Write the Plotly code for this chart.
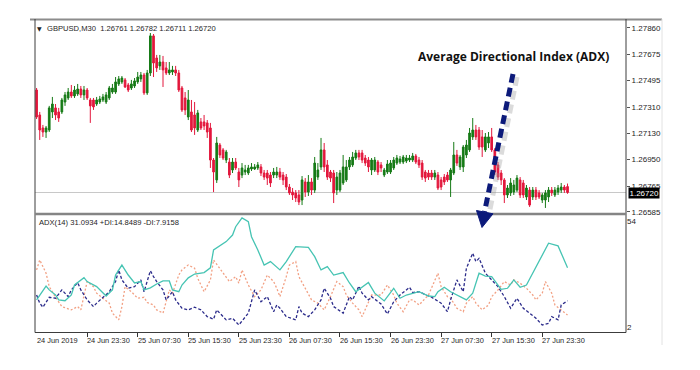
import plotly.graph_objects as go

W, H = 700, 370

# ---------------- data ----------------
BAR_INDEX = list(range(169))

OPEN = [1.27430, 1.27257, 1.27167, 1.27139, 1.27153, 1.27278, 1.27306, 1.27278, 1.27278, 1.27347,
        1.27375, 1.27416, 1.27389, 1.27403, 1.27437, 1.27396, 1.27430, 1.27361, 1.27361, 1.27333,
        1.27347, 1.27361, 1.27347, 1.27375, 1.27416, 1.27416, 1.27472, 1.27486, 1.27500, 1.27465,
        1.27444, 1.27458, 1.27486, 1.27507, 1.27534, 1.27410, 1.27548, 1.27805, 1.27652, 1.27597,
        1.27624, 1.27583, 1.27548, 1.27555, 1.27569, 1.27548, 1.27444, 1.27375, 1.27243, 1.27278,
        1.27257, 1.27153, 1.27209, 1.27209, 1.27202, 1.27167, 1.26945, 1.26807, 1.27049, 1.27015,
        1.26945, 1.26931, 1.26876, 1.26931, 1.26862, 1.26841, 1.26862, 1.26855, 1.26883, 1.26883,
        1.26890, 1.26897, 1.26855, 1.26855, 1.26841, 1.26841, 1.26841, 1.26862, 1.26841, 1.26827,
        1.26758, 1.26723, 1.26717, 1.26703, 1.26668, 1.26793, 1.26723, 1.26793, 1.26737, 1.26827,
        1.26897, 1.27015, 1.26911, 1.26862, 1.26855, 1.26737, 1.26737, 1.26786, 1.26807, 1.26897,
        1.26911, 1.26959, 1.26994, 1.26994, 1.26959, 1.26945, 1.26876, 1.26876, 1.26931, 1.26911,
        1.26841, 1.26862, 1.26862, 1.26890, 1.26924, 1.26931, 1.26931, 1.26938, 1.26945, 1.26945,
        1.26973, 1.26945, 1.26924, 1.26862, 1.26855, 1.26855, 1.26827, 1.26841, 1.26807, 1.26827,
        1.26841, 1.26807, 1.26855, 1.26980, 1.26897, 1.26897, 1.26980, 1.27015, 1.27105, 1.27153,
        1.27153, 1.27105, 1.27015, 1.27063, 1.27105, 1.27015, 1.26911, 1.26855, 1.26807, 1.26703,
        1.26717, 1.26723, 1.26737, 1.26807, 1.26786, 1.26689, 1.26737, 1.26689, 1.26737, 1.26717,
        1.26668, 1.26668, 1.26689, 1.26737, 1.26703, 1.26723, 1.26737, 1.26758, 1.26761]

HIGH = [1.27444, 1.27278, 1.27188, 1.27181, 1.27320, 1.27382, 1.27333, 1.27306, 1.27375, 1.27416,
        1.27444, 1.27465, 1.27458, 1.27472, 1.27458, 1.27458, 1.27444, 1.27375, 1.27375, 1.27382,
        1.27389, 1.27403, 1.27416, 1.27458, 1.27472, 1.27520, 1.27527, 1.27527, 1.27513, 1.27479,
        1.27500, 1.27513, 1.27555, 1.27555, 1.27548, 1.27569, 1.27825, 1.27818, 1.27673, 1.27673,
        1.27666, 1.27624, 1.27624, 1.27597, 1.27597, 1.27569, 1.27458, 1.27416, 1.27430, 1.27361,
        1.27347, 1.27292, 1.27236, 1.27257, 1.27222, 1.27202, 1.26959, 1.27105, 1.27063, 1.27028,
        1.27015, 1.26959, 1.26959, 1.26959, 1.26890, 1.26924, 1.26911, 1.26911, 1.26924, 1.26917,
        1.26931, 1.26917, 1.26876, 1.26876, 1.26862, 1.26890, 1.26897, 1.26890, 1.26862, 1.26848,
        1.26779, 1.26751, 1.26737, 1.26737, 1.26834, 1.26820, 1.26841, 1.26820, 1.26966, 1.26924,
        1.27098, 1.27063, 1.26945, 1.26876, 1.26876, 1.26862, 1.26876, 1.26980, 1.26945, 1.26966,
        1.27001, 1.27015, 1.27015, 1.27015, 1.26980, 1.26966, 1.26959, 1.26966, 1.26945, 1.26931,
        1.26890, 1.26945, 1.26945, 1.26966, 1.26980, 1.26973, 1.26980, 1.26980, 1.26980, 1.26994,
        1.26987, 1.26966, 1.26945, 1.26876, 1.26876, 1.26876, 1.26876, 1.26862, 1.26827, 1.26848,
        1.26862, 1.26890, 1.27070, 1.27015, 1.26980, 1.27049, 1.27084, 1.27167, 1.27236, 1.27188,
        1.27174, 1.27153, 1.27132, 1.27139, 1.27167, 1.27028, 1.26931, 1.26876, 1.26820, 1.26772,
        1.26820, 1.26807, 1.26841, 1.26827, 1.26807, 1.26772, 1.26758, 1.26758, 1.26758, 1.26737,
        1.26717, 1.26737, 1.26758, 1.26758, 1.26758, 1.26772, 1.26786, 1.26772, 1.26782]

LOW = [1.27229, 1.27084, 1.27105, 1.27098, 1.27139, 1.27236, 1.27222, 1.27209, 1.27264, 1.27320,
       1.27361, 1.27375, 1.27375, 1.27389, 1.27375, 1.27361, 1.27361, 1.27202, 1.27292, 1.27320,
       1.27333, 1.27347, 1.27333, 1.27361, 1.27403, 1.27403, 1.27458, 1.27472, 1.27444, 1.27416,
       1.27430, 1.27444, 1.27472, 1.27486, 1.27396, 1.27396, 1.27527, 1.27520, 1.27555, 1.27569,
       1.27451, 1.27534, 1.27534, 1.27534, 1.27527, 1.27416, 1.27278, 1.27257, 1.27222, 1.27139,
       1.27119, 1.27139, 1.27153, 1.27153, 1.27098, 1.26890, 1.26723, 1.26786, 1.26959, 1.26945,
       1.26924, 1.26820, 1.26855, 1.26876, 1.26758, 1.26820, 1.26841, 1.26841, 1.26869, 1.26876,
       1.26876, 1.26834, 1.26807, 1.26772, 1.26758, 1.26820, 1.26820, 1.26807, 1.26772, 1.26737,
       1.26703, 1.26668, 1.26654, 1.26633, 1.26633, 1.26689, 1.26696, 1.26703, 1.26717, 1.26807,
       1.26876, 1.26862, 1.26807, 1.26793, 1.26647, 1.26703, 1.26723, 1.26772, 1.26793, 1.26876,
       1.26897, 1.26945, 1.26945, 1.26924, 1.26904, 1.26862, 1.26841, 1.26862, 1.26841, 1.26862,
       1.26827, 1.26848, 1.26848, 1.26876, 1.26911, 1.26917, 1.26917, 1.26924, 1.26931, 1.26931,
       1.26917, 1.26890, 1.26807, 1.26793, 1.26807, 1.26807, 1.26807, 1.26737, 1.26737, 1.26772,
       1.26793, 1.26689, 1.26841, 1.26904, 1.26876, 1.26862, 1.26959, 1.27001, 1.27084, 1.27084,
       1.27015, 1.26966, 1.27001, 1.27028, 1.27001, 1.26841, 1.26807, 1.26772, 1.26647, 1.26682,
       1.26696, 1.26703, 1.26723, 1.26682, 1.26682, 1.26668, 1.26620, 1.26668, 1.26668, 1.26675,
       1.26647, 1.26613, 1.26654, 1.26696, 1.26689, 1.26703, 1.26717, 1.26717, 1.26711]

CLOSE = [1.27243, 1.27153, 1.27139, 1.27167, 1.27306, 1.27333, 1.27257, 1.27236, 1.27361, 1.27396,
         1.27416, 1.27389, 1.27430, 1.27437, 1.27396, 1.27430, 1.27375, 1.27320, 1.27313, 1.27361,
         1.27368, 1.27382, 1.27396, 1.27444, 1.27444, 1.27486, 1.27507, 1.27513, 1.27451, 1.27430,
         1.27472, 1.27493, 1.27520, 1.27534, 1.27410, 1.27548, 1.27805, 1.27617, 1.27583, 1.27624,
         1.27569, 1.27548, 1.27569, 1.27569, 1.27548, 1.27430, 1.27292, 1.27292, 1.27361, 1.27153,
         1.27167, 1.27271, 1.27167, 1.27181, 1.27139, 1.26945, 1.26862, 1.27063, 1.26980, 1.26959,
         1.27001, 1.26841, 1.26931, 1.26890, 1.26807, 1.26890, 1.26876, 1.26890, 1.26897, 1.26897,
         1.26911, 1.26855, 1.26827, 1.26820, 1.26786, 1.26862, 1.26862, 1.26827, 1.26807, 1.26758,
         1.26717, 1.26703, 1.26682, 1.26654, 1.26807, 1.26723, 1.26793, 1.26737, 1.26924, 1.26876,
         1.27015, 1.26897, 1.26827, 1.26820, 1.26717, 1.26827, 1.26855, 1.26897, 1.26897, 1.26945,
         1.26966, 1.26994, 1.26966, 1.26945, 1.26924, 1.26897, 1.26945, 1.26945, 1.26862, 1.26890,
         1.26876, 1.26917, 1.26924, 1.26945, 1.26959, 1.26952, 1.26966, 1.26959, 1.26959, 1.26973,
         1.26931, 1.26911, 1.26827, 1.26820, 1.26827, 1.26827, 1.26855, 1.26751, 1.26758, 1.26793,
         1.26807, 1.26876, 1.26980, 1.26924, 1.26966, 1.27035, 1.27049, 1.27132, 1.27153, 1.27105,
         1.27035, 1.27035, 1.27105, 1.27105, 1.27015, 1.26862, 1.26827, 1.26807, 1.26703, 1.26751,
         1.26786, 1.26772, 1.26820, 1.26703, 1.26703, 1.26751, 1.26633, 1.26737, 1.26689, 1.26689,
         1.26703, 1.26717, 1.26737, 1.26717, 1.26737, 1.26751, 1.26758, 1.26737, 1.26720]

ADX_IDX = [0, 3, 4, 6, 7, 9, 11, 12, 15, 16, 19, 22, 24, 25, 27, 29, 31, 33, 34, 36,
           38, 40, 42, 43, 45, 46, 48, 50, 53, 55, 56, 59, 60, 62, 63, 65, 67, 68, 70, 72,
           74, 77, 79, 82, 86, 88, 90, 92, 94, 97, 99, 101, 105, 107, 110, 113, 115, 117, 119, 121,
           124, 126, 127, 129, 131, 133, 136, 138, 140, 142, 144, 147, 149, 151, 153, 155, 157, 159, 162, 165,
           167, 168]
ADX_VAL = [15.3, 22.1, 20.2, 17.7, 15.3, 14.9, 17.7, 22.6, 26.2, 24.3, 21.8, 17.2, 20.2, 27.5, 32.4, 27.5, 23.6, 24.3, 20.2, 21.2,
           23.1, 24.6, 24.6, 20.2, 19.3, 22.6, 26.1, 28.0, 28.7, 31.0, 39.8, 43.2, 43.9, 47.1, 51.2, 55.5, 53.7, 46.3, 39.8, 32.4,
           34.1, 30.0, 34.1, 41.4, 41.1, 36.5, 30.0, 31.6, 27.5, 28.7, 23.6, 19.3, 23.8, 18.6, 14.8, 21.0, 16.1, 17.7, 18.6, 19.3,
           17.2, 16.9, 19.3, 21.5, 19.3, 17.7, 15.3, 18.6, 28.4, 27.0, 26.7, 20.5, 21.0, 25.1, 21.5, 22.6, 28.4, 34.1, 43.1, 41.8,
           34.9, 31.09]

PDI_IDX = [0, 1, 2, 4, 6, 8, 10, 11, 13, 14, 16, 18, 19, 21, 23, 25, 26, 27, 29, 31,
           33, 34, 36, 37, 38, 40, 41, 43, 44, 46, 48, 50, 52, 54, 56, 57, 59, 60, 62, 64,
           67, 69, 71, 73, 75, 76, 77, 79, 82, 83, 84, 86, 88, 90, 91, 93, 94, 97, 99, 100,
           102, 103, 105, 106, 109, 111, 113, 115, 117, 118, 119, 121, 124, 125, 128, 130, 131, 133, 135, 136,
           138, 139, 140, 142, 144, 146, 148, 150, 152, 154, 156, 158, 160, 162, 163, 165, 166, 168]
PDI_VAL = [17.7, 13.7, 11.7, 16.6, 16.1, 20.2, 16.9, 20.2, 23.8, 20.2, 15.3, 12.0, 13.7, 16.6, 19.3, 24.3, 30.0, 25.1, 21.0, 21.8,
           25.1, 19.3, 29.6, 26.7, 24.3, 20.2, 15.3, 19.3, 15.3, 11.2, 10.4, 11.7, 10.4, 7.1, 5.8, 10.4, 7.4, 5.5, 6.3, 3.0,
           8.8, 20.2, 14.4, 16.9, 9.5, 12.8, 11.2, 7.1, 5.5, 12.0, 8.8, 7.1, 10.4, 15.3, 21.0, 16.1, 12.0, 8.8, 16.9, 15.3,
           22.1, 18.6, 15.3, 16.9, 13.3, 8.4, 14.4, 17.7, 20.2, 21.5, 18.9, 19.3, 17.2, 16.6, 13.7, 9.5, 15.3, 25.1, 19.3, 30.8,
           38.2, 34.1, 35.7, 28.4, 25.1, 21.8, 16.9, 11.2, 16.1, 11.2, 8.8, 6.3, 3.0, 3.8, 7.1, 5.5, 12.8, 14.85]

MDI_IDX = [0, 1, 3, 4, 6, 8, 11, 13, 14, 15, 16, 18, 19, 21, 23, 24, 26, 27, 28, 30,
           32, 34, 35, 37, 38, 40, 41, 42, 43, 45, 46, 48, 50, 51, 53, 55, 56, 58, 60, 61,
           63, 64, 65, 67, 69, 71, 73, 75, 76, 77, 79, 80, 82, 83, 85, 87, 89, 91, 93, 95,
           97, 98, 100, 102, 103, 105, 106, 109, 111, 113, 114, 116, 118, 119, 121, 124, 125, 127, 128, 130,
           131, 133, 135, 136, 138, 139, 141, 143, 144, 146, 148, 150, 151, 153, 155, 157, 158, 160, 161, 163,
           164, 166, 168]
MDI_VAL = [30.0, 34.9, 28.4, 21.8, 16.6, 12.0, 10.4, 12.0, 10.4, 16.9, 24.3, 21.8, 18.6, 16.1, 13.7, 8.8, 5.5, 12.0, 21.8, 19.3,
           16.1, 16.6, 14.0, 12.8, 10.4, 8.8, 14.4, 20.2, 18.6, 27.5, 30.0, 32.4, 30.8, 25.9, 19.3, 25.1, 34.9, 30.8, 26.7, 24.3,
           26.7, 23.5, 30.0, 22.6, 16.9, 20.2, 27.5, 24.3, 21.0, 16.9, 26.7, 32.4, 34.1, 26.7, 21.0, 15.3, 13.7, 10.4, 16.9, 24.3,
           21.8, 17.7, 13.7, 10.4, 7.1, 13.7, 17.7, 17.7, 22.6, 17.7, 13.7, 9.5, 15.3, 15.3, 12.8, 17.7, 21.0, 28.4, 21.8, 16.9,
           16.1, 11.2, 9.5, 13.7, 16.9, 13.7, 10.4, 12.8, 16.9, 20.2, 24.3, 22.6, 25.1, 23.5, 21.0, 17.7, 15.3, 18.6, 24.3, 18.6,
           12.8, 10.4, 7.92]

PRICE_TICKS = [1.27860, 1.27675, 1.27495, 1.27310, 1.27130, 1.26950, 1.26765, 1.26585]
PRICE_TICK_TEXT = ["1.27860", "1.27675", "1.27495", "1.27310", "1.27130", "1.26950", "1.26765", "1.26585"]
ADX_TICKS = [54, 2]
ADX_TICK_TEXT = ["54", "2"]
TIME_TICK_IDX = [0, 16, 32, 48, 64, 80, 96, 112, 128, 144, 160]
TIME_TICK_TEXT = ["24 Jun 2019", "24 Jun 23:30", "25 Jun 07:30", "25 Jun 15:30", "25 Jun 23:30",
                  "26 Jun 07:30", "26 Jun 15:30", "26 Jun 23:30", "27 Jun 07:30", "27 Jun 15:30",
                  "27 Jun 23:30"]
LAST_PRICE = 1.26720
LAST_PRICE_TEXT = "1.26720"
HEADER_TEXT = "GBPUSD,M30  1.26761 1.26782 1.26711 1.26720"
ADX_HEADER_TEXT = "ADX(14) 31.0934 +DI:14.8489 -DI:7.9158"
TITLE_TEXT = "Average Directional Index (ADX)"

# ---------------- style ----------------
GREEN = "#167a16"
RED = "#e3173c"
ADX_COLOR = "#46c4b3"
PDI_COLOR = "#2a2a8a"
MDI_COLOR = "#f2a083"
NAVY = "#0c1a7a"
TXT = "#1e1e1e"
FONT = "Liberation Sans"


def px(x):
    return x / W


def py(y):
    return 1 - y / H


fig = go.Figure()

fig.add_trace(go.Candlestick(
    x=BAR_INDEX, open=OPEN, high=HIGH, low=LOW, close=CLOSE,
    increasing=dict(line=dict(color=GREEN, width=1), fillcolor=GREEN),
    decreasing=dict(line=dict(color=RED, width=1), fillcolor=RED),
    whiskerwidth=0, hoverinfo="skip", showlegend=False,
    xaxis="x", yaxis="y"))

fig.add_trace(go.Scatter(x=MDI_IDX, y=MDI_VAL, mode="lines",
                         line=dict(color=MDI_COLOR, width=1.3, dash="2px,2px"),
                         xaxis="x2", yaxis="y2", hoverinfo="skip", showlegend=False))
fig.add_trace(go.Scatter(x=PDI_IDX, y=PDI_VAL, mode="lines",
                         line=dict(color=PDI_COLOR, width=1.3, dash="3px,2px"),
                         xaxis="x2", yaxis="y2", hoverinfo="skip", showlegend=False))
fig.add_trace(go.Scatter(x=ADX_IDX, y=ADX_VAL, mode="lines",
                         line=dict(color=ADX_COLOR, width=1.3),
                         xaxis="x2", yaxis="y2", hoverinfo="skip", showlegend=False))

xdom = [px(35), px(626)]
xr = [-0.5, 186.5]

fig.update_layout(
    width=W, height=H,
    margin=dict(l=0, r=0, t=0, b=0, autoexpand=False),
    paper_bgcolor="white", plot_bgcolor="white",
    showlegend=False,
    font=dict(family=FONT, size=8, color=TXT),
    boxgap=0.25,
    xaxis=dict(domain=xdom, range=xr, anchor="y", showticklabels=False, showgrid=False,
               zeroline=False, showline=False, ticks="", rangeslider=dict(visible=False),
               fixedrange=True),
    xaxis2=dict(domain=xdom, range=xr, anchor="y2", showticklabels=False, showgrid=False,
                zeroline=False, showline=False, ticks="outside", ticklen=4, tickwidth=1,
                tickcolor="#333333", tickvals=TIME_TICK_IDX[1:], fixedrange=True),
    yaxis=dict(domain=[py(213), py(20)], range=[1.26578, 1.27915], anchor="x", side="right",
               tickvals=PRICE_TICKS, ticktext=PRICE_TICK_TEXT, ticks="outside", ticklen=3,
               tickcolor="#555555", tickfont=dict(size=8, color=TXT, family=FONT),
               showgrid=False, zeroline=False, showline=False, fixedrange=True),
    yaxis2=dict(domain=[py(332), py(215)], range=[-0.45, 56.94], anchor="x2", side="right",
                tickvals=ADX_TICKS, ticktext=ADX_TICK_TEXT, ticks="", ticklen=0,
                tickfont=dict(size=8, color=TXT, family=FONT),
                showgrid=False, zeroline=False, showline=False, fixedrange=True),
)

shapes = []
# current price line
shapes.append(dict(type="line", xref="paper", yref="y", x0=xdom[0], x1=xdom[1],
                   y0=LAST_PRICE, y1=LAST_PRICE, line=dict(color="#c8c8c8", width=1),
                   layer="below"))
# frame
shapes.append(dict(type="line", xref="paper", yref="paper", x0=px(30), x1=px(662),
                   y0=py(19.5), y1=py(19.5), line=dict(color="#8c8c8c", width=2)))
shapes.append(dict(type="line", xref="paper", yref="paper", x0=px(35), x1=px(35),
                   y0=py(19), y1=py(332.5), line=dict(color="#3c3c3c", width=1)))
shapes.append(dict(type="line", xref="paper", yref="paper", x0=px(626), x1=px(626),
                   y0=py(19), y1=py(332.5), line=dict(color="#3c3c3c", width=1)))
shapes.append(dict(type="line", xref="paper", yref="paper", x0=px(35), x1=px(626),
                   y0=py(332.5), y1=py(332.5), line=dict(color="#3c3c3c", width=1)))
shapes.append(dict(type="line", xref="paper", yref="paper", x0=px(35), x1=px(626),
                   y0=py(214), y1=py(214), line=dict(color="#858585", width=2.5)))
shapes.append(dict(type="line", xref="paper", yref="paper", x0=px(662), x1=px(662),
                   y0=py(19), y1=py(345), line=dict(color="#e2e2e2", width=1)))
# arrow shadow
shapes.append(dict(type="line", xref="paper", yref="paper", x0=px(517), y0=py(77),
                   x1=px(489), y1=py(214), line=dict(color="#9a9a9a", width=5, dash="9px,5px"),
                   opacity=0.35))
# arrow shaft
shapes.append(dict(type="line", xref="paper", yref="paper", x0=px(513), y0=py(74),
                   x1=px(484.5), y1=py(212), line=dict(color=NAVY, width=5, dash="9px,5px")))
# arrow head
head = "M {:.5f} {:.5f} L {:.5f} {:.5f} L {:.5f} {:.5f} Z".format(
    px(476.5), py(210.5), px(493), py(213.8), px(482), py(227.5))
shapes.append(dict(type="path", xref="paper", yref="paper", path=head,
                   fillcolor=NAVY, line=dict(color=NAVY, width=1)))
fig.update_layout(shapes=shapes)

ann = []
ann.append(dict(text="\u25BC", xref="paper", yref="paper", x=px(34.5), y=py(29),
                xanchor="left", yanchor="middle", showarrow=False,
                font=dict(size=6, color=TXT, family="DejaVu Sans")))
ann.append(dict(text=HEADER_TEXT, xref="paper", yref="paper", x=px(45), y=py(29),
                xanchor="left", yanchor="middle", showarrow=False,
                font=dict(size=7.6, color=TXT, family=FONT)))
ann.append(dict(text=ADX_HEADER_TEXT, xref="paper", yref="paper", x=px(37), y=py(223),
                xanchor="left", yanchor="middle", showarrow=False,
                font=dict(size=7.6, color=TXT, family=FONT)))
ann.append(dict(text="<b>" + TITLE_TEXT + "</b>", xref="paper", yref="paper", x=px(513),
                y=py(57), xanchor="center", yanchor="middle", showarrow=False,
                font=dict(size=12, color="#111111", family="Open Sans")))
ann.append(dict(text=LAST_PRICE_TEXT, xref="paper", yref="y", x=px(628), y=LAST_PRICE,
                xanchor="left", yanchor="middle", showarrow=False, bgcolor="#000000",
                borderpad=0.5, font=dict(size=8, color="white", family=FONT)))
for i, t in zip(TIME_TICK_IDX, TIME_TICK_TEXT):
    ann.append(dict(text=t, xref="x2", yref="paper", x=i, y=py(340),
                    xanchor="left", yanchor="middle", showarrow=False, xshift=-2,
                    font=dict(size=7.4, color=TXT, family=FONT)))
fig.update_layout(annotations=ann)

fig.write_html("out.html",
               config={"displayModeBar": False, "staticPlot": True},
               post_script="document.body.style.margin='0px';document.body.style.padding='0px';")
